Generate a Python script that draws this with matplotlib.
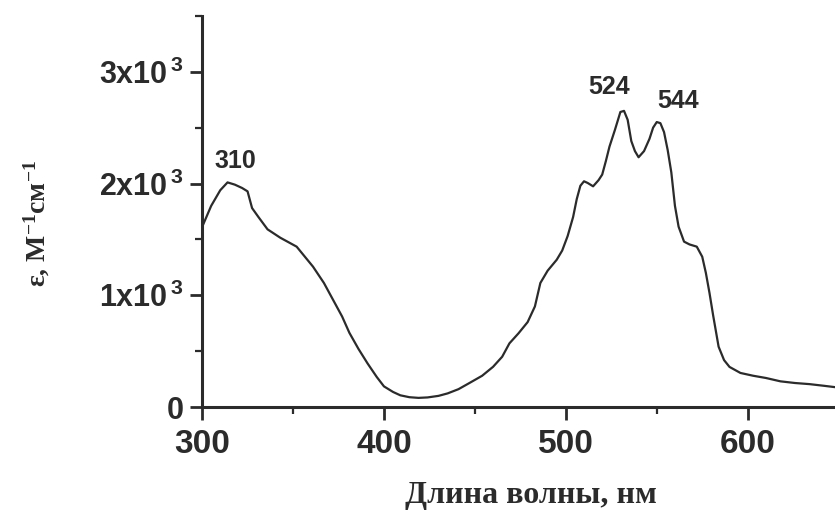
import numpy as np
import matplotlib
matplotlib.use("Agg")
import matplotlib.pyplot as plt
from matplotlib.ticker import FixedLocator, FixedFormatter, MultipleLocator

plt.rcParams['mathtext.default'] = 'regular'

# spectrum (nm, M^-1 cm^-1)
wl = [300, 305, 310, 314, 318, 322, 325, 327.5, 331, 336, 343, 352, 361, 367, 372,
      377, 381, 386, 391, 396, 400, 405, 409, 414, 419, 424, 430, 435, 441, 447,
      454, 460, 465, 469, 474, 479, 483, 486, 490, 495, 498, 501, 504, 506, 508,
      510, 512, 515, 518, 520, 522, 524, 527, 530, 532, 534, 536, 538, 540, 543,
      546, 548, 550, 552, 554, 556, 558, 560, 562, 565, 568, 572, 575, 577, 579,
      581, 584, 587, 590, 596, 603, 610, 618, 626, 634, 642, 648]
eps = [1610, 1800, 1940, 2010, 1990, 1960, 1930, 1780, 1700, 1590, 1515, 1435, 1256,
       1110, 960, 810, 664, 520, 390, 270, 185, 135, 105, 88, 82, 86, 100, 122, 160, 215,
       280, 360, 450, 570, 660, 760, 900, 1110, 1220, 1318, 1400, 1530, 1700, 1860,
       1980, 2020, 2005, 1975, 2030, 2080, 2200, 2330, 2480, 2640, 2650, 2570, 2380,
       2290, 2235, 2290, 2400, 2500, 2550, 2540, 2460, 2300, 2100, 1800, 1614, 1480,
       1455, 1435, 1345, 1200, 1020, 820, 540, 420, 359, 305, 280, 260, 230, 215,
       205, 190, 178]

peak_text = ["310", "524", "544"]
peak_x = [318.5, 523.6, 561.5]
peak_y = [2200, 2860, 2735]

yticks = [0, 1000, 2000, 3000]
ylabels = ["0", "1x10$^{\\,3}$", "2x10$^{\\,3}$", "3x10$^{\\,3}$"]
xticks = [300, 400, 500, 600]

ink = '#2b2b2b'
sans = 'Liberation Sans'
serif = 'Liberation Serif'

fig = plt.figure(figsize=(8.35, 5.12), dpi=100)
ax = fig.add_axes([0.242, 0.205, 0.758, 0.764])
ax.plot(wl, eps, color=ink, lw=1.6)

ax.set_xlim(300, 648)
ax.set_ylim(0, 3500)
ax.spines['top'].set_visible(False)
ax.spines['right'].set_visible(False)
for s in ['left', 'bottom']:
    ax.spines[s].set_linewidth(2.2)
    ax.spines[s].set_color(ink)

ax.xaxis.set_major_locator(FixedLocator(xticks))
ax.xaxis.set_minor_locator(MultipleLocator(50))
ax.yaxis.set_major_locator(FixedLocator(yticks))
ax.yaxis.set_major_formatter(FixedFormatter(ylabels))
ax.yaxis.set_minor_locator(MultipleLocator(500))
ax.tick_params(which='major', direction='out', length=9, width=2, color=ink)
ax.tick_params(which='minor', direction='out', length=5, width=1.6, color=ink)
ax.tick_params(axis='x', pad=7)
ax.tick_params(axis='y', pad=4)
for lab in ax.get_xticklabels():
    lab.set_fontfamily(sans)
    lab.set_fontweight('bold')
    lab.set_fontsize(24)
    lab.set_color(ink)
for lab in ax.get_yticklabels():
    lab.set_fontfamily(sans)
    lab.set_fontweight('bold')
    lab.set_fontsize(22)
    lab.set_color(ink)

for t, x, y in zip(peak_text, peak_x, peak_y):
    ax.text(x, y, t, ha='center', va='center', fontsize=18, fontweight='bold',
            family=sans, color=ink)

ax.set_xlabel("Длина волны, нм", family=serif, fontweight='bold', fontsize=23,
              color=ink)
ax.xaxis.set_label_coords((531 - 202) / 633, -(481 - 407) / 391)
ax.set_ylabel("ε, M$^{-1}$см$^{-1}$", family=serif, fontweight='bold', fontsize=20,
              color=ink)
ax.yaxis.set_label_coords((52 - 202) / 633, (407 - 224) / 391)

fig.savefig("out.png", dpi=100)
